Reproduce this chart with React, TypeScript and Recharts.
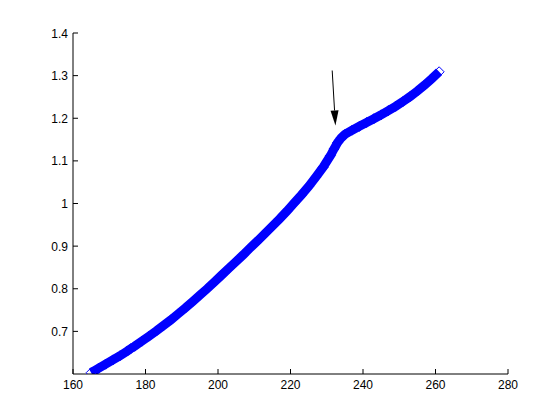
import { LineChart, Line, XAxis, YAxis, ReferenceLine } from 'recharts';

const xs = [165, 167, 169, 171, 173, 175, 176, 177, 179, 181, 183, 185, 187, 189, 191, 193, 195, 197, 199, 201, 203, 205, 207, 209, 211, 213, 215, 217, 219, 221, 223, 225, 227, 229, 231, 232, 233, 234, 235, 237, 239, 241, 243, 245, 247, 249, 251, 253, 255, 257, 259, 261];
const ys = [0.603, 0.613, 0.623, 0.633, 0.643, 0.654, 0.66, 0.665, 0.677, 0.689, 0.701, 0.714, 0.727, 0.741, 0.755, 0.77, 0.785, 0.8, 0.816, 0.832, 0.848, 0.864, 0.88, 0.897, 0.913, 0.93, 0.947, 0.964, 0.982, 1.001, 1.02, 1.04, 1.062, 1.085, 1.112, 1.128, 1.143, 1.154, 1.162, 1.172, 1.181, 1.19, 1.199, 1.208, 1.218, 1.228, 1.239, 1.251, 1.264, 1.278, 1.293, 1.309];

const xTicks = [160, 180, 200, 220, 240, 260, 280];
const yTicks = [0.7, 0.8, 0.9, 1, 1.1, 1.2, 1.3, 1.4];

// arrow annotation: tail and tip
const arrowFrom = { x: 231.5, y: 1.312 };
const arrowTo = { x: 232.4, y: 1.183 };

const data = xs.map((x, i) => ({ x, y: ys[i] }));

const BLUE = '#0000ff';
const font = 'Liberation Sans, Arial, sans-serif';

const Diamond = (props: any) => {
  const { cx, cy, index } = props;
  if (cx == null || cy == null) return null;
  const r = 5;
  return (
    <polygon
      key={`d-${index}`}
      points={`${cx},${cy - r} ${cx + r},${cy} ${cx},${cy + r} ${cx - r},${cy}`}
      fill="none"
      stroke={BLUE}
      strokeWidth={1}
    />
  );
};

const YTick = (props: any) => {
  const { x, y, payload } = props;
  return (
    <g>
      <line x1={x} y1={y} x2={x + 5} y2={y} stroke="#000" />
      <text x={x - 5} y={y} dy={4.5} textAnchor="end" fontSize={12} fontFamily={font} fill="#000">
        {payload.value}
      </text>
    </g>
  );
};

const XTick = (props: any) => {
  const { x, y, payload } = props;
  return (
    <g>
      <line x1={x} y1={y} x2={x} y2={y - 5} stroke="#000" />
      <text x={x} y={y + 15} textAnchor="middle" fontSize={12} fontFamily={font} fill="#000">
        {payload.value}
      </text>
    </g>
  );
};

const Arrow = (props: any) => {
  const { x1, y1, x2, y2 } = props;
  if ([x1, y1, x2, y2].some(v => v == null)) return null;
  const ang = Math.atan2(y2 - y1, x2 - x1);
  const len = 15;
  const w = 4;
  const bx = x2 - len * Math.cos(ang);
  const by = y2 - len * Math.sin(ang);
  const nx = -Math.sin(ang) * w;
  const ny = Math.cos(ang) * w;
  return (
    <g>
      <line x1={x1} y1={y1} x2={bx} y2={by} stroke="#000" strokeWidth={1} />
      <polygon points={`${x2},${y2} ${bx + nx},${by + ny} ${bx - nx},${by - ny}`} fill="#000" />
    </g>
  );
};

export default function App() {
  return (
    <div style={{ position: 'absolute', left: 0, top: 0, width: 560, height: 420, background: '#fff' }}>
      <LineChart width={560} height={420} data={data} margin={{ top: 33, right: 52, bottom: 0, left: 0 }}>
        <XAxis
          dataKey="x"
          type="number"
          domain={[160, 280]}
          ticks={xTicks}
          allowDataOverflow
          height={46}
          tickSize={0}
          tickMargin={0}
          tickLine={false}
          axisLine={{ stroke: '#000' }}
          tick={<XTick />}
        />
        <YAxis
          type="number"
          domain={[0.6, 1.4]}
          ticks={yTicks}
          allowDataOverflow
          width={73}
          tickSize={0}
          tickMargin={0}
          tickLine={false}
          axisLine={{ stroke: '#000' }}
          tick={<YTick />}
        />
        <Line
          dataKey="y"
          type="linear"
          stroke={BLUE}
          strokeWidth={9}
          dot={<Diamond />}
          activeDot={false}
          isAnimationActive={false}
        />
        <ReferenceLine
          segment={[arrowFrom, arrowTo]}
          stroke="#000"
          ifOverflow="visible"
          shape={<Arrow />}
        />
      </LineChart>
    </div>
  );
}
